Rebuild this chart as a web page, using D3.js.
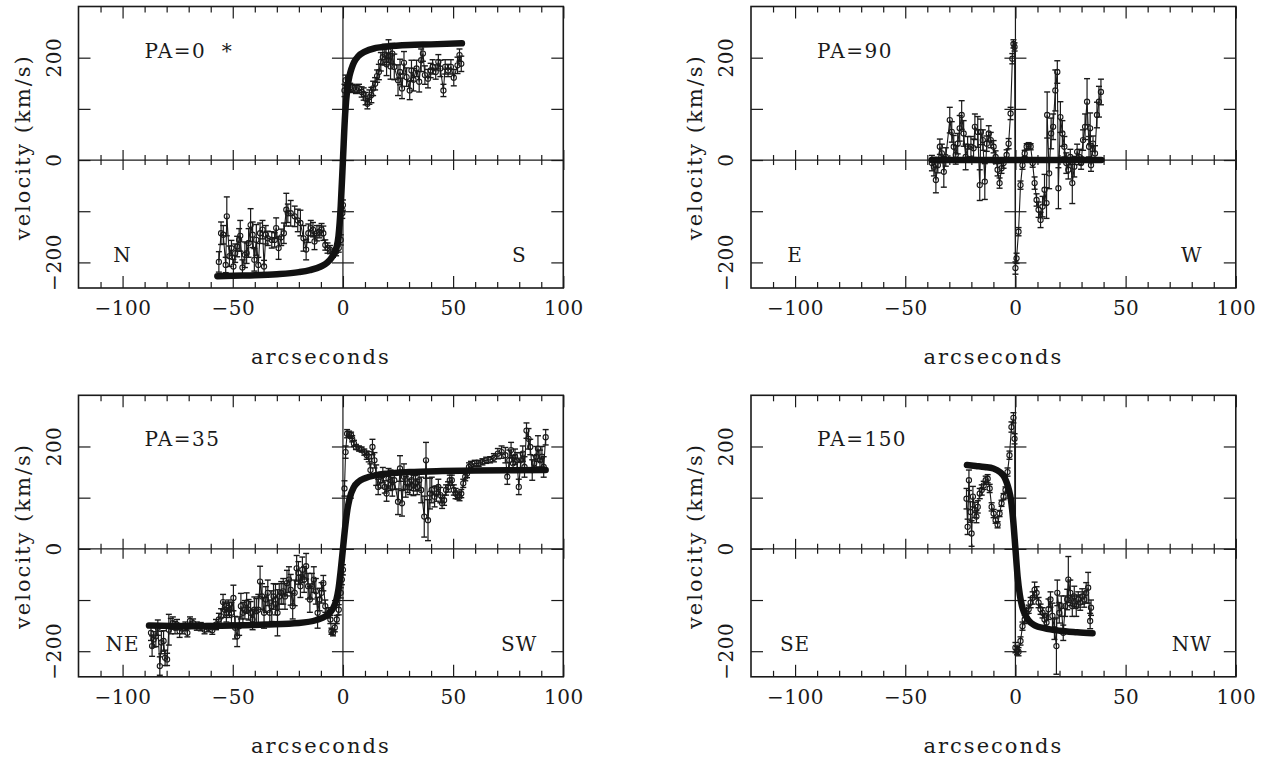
<!DOCTYPE html>
<html><head><meta charset="utf-8">
<script src="https://cdn.jsdelivr.net/npm/d3@7"></script>
<style>
body{margin:0;background:#fff}
text{font-family:"DejaVu Serif",serif;fill:#1a1a1a;white-space:pre}
</style>
</head><body>
<svg id="chart" width="1265" height="758"></svg>
<script>
// ---------- axes / labels ----------
const xDomain = [-120, 100];
const yDomain = [-250, 300];
const xMajorTicks = [-100, -50, 0, 50, 100];
const xTickLabels = ["−100", "−50", "0", "50", "100"];
const xMinorTicks = [-110,-90,-80,-70,-60,-40,-30,-20,-10,10,20,30,40,60,70,80,90];
const yTicks = [-200, -100, 0, 100, 200];
const yLabelTicks = [-200, 0, 200];
const yTickLabels = ["−200", "0", "200"];
const xTitle = "arcseconds";
const yTitle = "velocity (km/s)";

const panelTitles = ["PA=0  *", "PA=90", "PA=35", "PA=150"];
const leftLabels = ["N", "E", "NE", "SE"];
const rightLabels = ["S", "W", "SW", "NW"];

// ---------- model curves [arcsec, km/s] ----------
const modelPA0 = [[-57,-227],[-50,-226],[-40,-225],[-30,-223],[-20,-219],[-15,-215],[-10,-208],[-7,-200],[-5,-190],[-3,-172],[-2,-148],[-1,-90],[0,0],[1,90],[2,140],[3,165],[4,180],[5,191],[7,203],[10,212],[15,219],[20,222],[30,225],[40,226],[54,228]];
const modelPA90 = [[-38,0],[-20,0],[0,0],[20,0],[39,0]];
const modelPA35 = [[-88,-150],[-70,-151],[-50,-150],[-35,-148],[-20,-145],[-12,-139],[-8,-132],[-5,-120],[-3,-100],[-2,-78],[-1,-42],[0,0],[1,42],[2,76],[3,98],[5,121],[7,131],[10,138],[15,144],[20,147],[30,150],[45,152],[60,153],[92,154]];
const modelPA150 = [[-22,164],[-18,162],[-14,160],[-10,157],[-7,150],[-5,140],[-4,130],[-3,116],[-2,95],[-1,55],[0,0],[1,-55],[2,-90],[3,-112],[4,-125],[6,-140],[9,-150],[13,-155],[20,-160],[28,-163],[35,-165]];

// ---------- measured velocities [arcsec, km/s, error] ----------
const dataPA0 = [[-56.3,-199,20],[-55.3,-143,22],[-54.3,-146,18],[-53.2,-205,15],[-52.7,-110,38],[-51.5,-188,20],[-50.6,-172,15],[-49.7,-208,14],[-48.9,-182,18],[-48.0,-169,20],[-47.1,-156,22],[-46.6,-148,30],[-45.6,-210,15],[-44.5,-185,25],[-43.7,-182,20],[-42.8,-162,28],[-41.9,-127,32],[-41.0,-146,25],[-40.2,-195,22],[-39.3,-156,30],[-38.4,-205,15],[-37.6,-143,20],[-36.5,-136,18],[-35.8,-208,12],[-35.0,-146,18],[-34.1,-153,14],[-32.3,-156,16],[-31.0,-156,14],[-30.3,-133,20],[-29.2,-172,22],[-28.0,-151,16],[-26.8,-143,20],[-25.7,-97,32],[-25.0,-104,18],[-23.7,-104,25],[-21.9,-110,20],[-20.5,-118,22],[-19.3,-123,25],[-17.9,-153,25],[-16.7,-175,20],[-15.7,-143,18],[-14.6,-133,15],[-13.6,-136,14],[-12.9,-159,16],[-11.8,-143,15],[-10.8,-140,12],[-9.7,-136,12],[-8.9,-143,14],[-8.0,-166,10],[-7.0,-172,10],[-5.9,-175,8],[-4.5,-182,8],[-3.1,-179,8],[-1.9,-172,8],[-1.0,-156,10],[-0.3,-104,10],[0.0,-88,10],[0.7,136,12],[1.2,156,10],[2.1,149,8],[3.3,142,8],[4.5,140,8],[5.9,138,8],[7.3,140,8],[8.5,133,10],[9.4,129,12],[10.3,120,12],[11.1,110,10],[12.0,123,14],[12.9,127,15],[13.7,140,14],[14.6,149,12],[15.5,164,12],[16.3,172,15],[17.2,192,18],[18.1,201,15],[19.0,206,20],[19.8,187,22],[20.7,213,22],[21.6,183,25],[22.4,208,20],[23.3,182,25],[25.0,156,30],[25.9,172,25],[26.8,140,20],[27.7,190,22],[28.9,162,18],[30.3,136,18],[31.1,175,20],[32.0,157,22],[33.4,179,16],[34.6,153,20],[35.5,195,22],[36.3,208,15],[37.2,166,18],[38.6,159,18],[39.8,175,14],[40.7,182,14],[42.1,172,14],[43.3,192,14],[44.2,179,16],[45.6,136,12],[46.4,182,14],[47.7,175,12],[49.0,182,14],[50.3,161,16],[52.0,185,16],[52.9,205,12],[53.7,188,15]];

const dataPA90 = [[-37.9,-6,15],[-37.0,-13,18],[-36.1,-39,25],[-35.2,-10,15],[-34.3,26,15],[-33.4,13,18],[-32.5,-23,30],[-31.6,6,18],[-29.8,78,25],[-28.9,55,20],[-28.0,26,22],[-27.1,10,18],[-26.2,32,20],[-25.3,62,25],[-24.4,88,28],[-23.5,52,25],[-22.6,6,25],[-21.7,26,20],[-20.2,26,20],[-19.0,23,18],[-18.4,65,25],[-17.1,55,30],[-16.2,-49,30],[-15.7,55,25],[-14.8,39,20],[-13.9,-42,35],[-13.0,32,15],[-12.1,52,15],[-11.2,39,15],[-9.9,26,12],[-9.0,6,12],[-8.1,-19,12],[-7.2,-45,10],[-6.3,-16,10],[-5.4,-6,10],[-4.0,10,10],[-3.1,32,10],[-2.2,91,12],[-1.4,198,10],[-0.9,227,8],[-0.4,221,8],[0.0,-211,12],[0.5,-192,10],[1.4,-140,8],[2.3,-49,8],[3.2,-10,8],[4.2,13,6],[5.1,26,6],[6.0,28,6],[6.9,26,6],[7.8,-6,8],[8.7,-45,12],[9.6,-78,12],[10.5,-97,15],[11.4,-117,15],[12.3,-91,20],[13.2,-58,30],[14.1,-84,30],[14.4,88,45],[15.3,-26,30],[16.2,52,30],[17.1,65,25],[18.1,136,40],[19.0,172,22],[19.5,-55,40],[20.4,84,30],[21.3,52,25],[22.2,26,20],[23.1,-6,20],[24.0,-19,18],[24.9,6,15],[25.8,-45,40],[26.7,-13,20],[28.0,16,15],[28.9,6,15],[29.8,-6,12],[30.7,39,20],[31.6,65,25],[32.5,114,45],[33.4,26,20],[33.9,62,30],[34.3,-10,12],[35.2,32,15],[36.1,13,15],[37.0,88,25],[37.9,114,30],[38.8,133,25]];

const dataPA35 = [[-87.1,-164,15],[-86.6,-190,20],[-85.9,-177,15],[-84.9,-171,20],[-84.0,-154,15],[-83.1,-229,18],[-82.4,-183,22],[-81.4,-180,20],[-80.7,-213,15],[-79.8,-216,12],[-79.0,-158,30],[-78.1,-151,15],[-77.2,-145,12],[-76.2,-154,12],[-75.3,-148,10],[-74.1,-161,12],[-72.7,-156,10],[-71.5,-151,8],[-70.6,-164,8],[-69.4,-141,8],[-68.0,-145,8],[-66.3,-151,8],[-64.5,-152,8],[-62.8,-158,8],[-61.0,-154,8],[-59.3,-159,8],[-57.6,-148,10],[-56.3,-138,12],[-55.3,-132,15],[-54.4,-104,15],[-53.6,-119,15],[-52.9,-125,18],[-52.0,-115,15],[-51.5,-119,15],[-50.6,-125,20],[-49.7,-96,25],[-48.9,-154,22],[-48.0,-171,20],[-47.1,-151,18],[-46.3,-112,25],[-45.4,-125,20],[-44.5,-119,18],[-43.7,-106,20],[-42.8,-119,20],[-41.9,-125,22],[-41.0,-138,20],[-40.2,-119,25],[-39.3,-122,25],[-38.4,-119,30],[-37.6,-64,30],[-36.7,-93,25],[-35.8,-125,30],[-35.0,-99,25],[-34.1,-86,25],[-33.2,-125,25],[-32.3,-112,30],[-31.5,-93,25],[-30.6,-99,30],[-29.7,-125,45],[-28.9,-93,25],[-28.0,-86,22],[-27.1,-83,25],[-26.3,-93,25],[-25.4,-67,25],[-24.5,-60,25],[-23.7,-80,30],[-22.8,-112,25],[-21.9,-86,25],[-21.0,-38,25],[-20.2,-47,22],[-19.3,-73,22],[-18.4,-41,25],[-17.6,-60,25],[-16.7,-34,25],[-15.8,-73,25],[-15.0,-99,25],[-14.1,-73,25],[-13.2,-60,25],[-12.3,-83,25],[-11.5,-125,30],[-10.6,-99,22],[-9.7,-86,20],[-8.9,-67,15],[-8.0,-112,12],[-6.6,-125,10],[-5.7,-138,8],[-5.2,-161,6],[-4.5,-164,6],[-3.7,-154,8],[-2.8,-138,8],[-1.9,-119,10],[-1.0,-86,10],[-0.5,-60,10],[0.0,-41,10],[0.7,118,15],[1.2,189,12],[1.9,225,8],[2.8,224,6],[3.7,222,6],[4.2,215,6],[5.0,206,6],[5.9,199,5],[7.3,196,5],[8.5,194,5],[9.7,189,6],[10.8,183,8],[11.7,180,10],[12.5,154,12],[13.4,199,15],[14.3,173,15],[15.1,144,20],[16.0,121,15],[17.2,134,15],[18.1,144,15],[19.0,121,12],[19.8,108,15],[20.7,137,20],[21.6,134,20],[22.4,121,18],[23.3,134,18],[25.0,92,25],[25.9,157,25],[26.8,89,25],[27.7,141,25],[28.5,121,20],[29.4,128,18],[30.3,121,15],[31.1,134,20],[32.0,124,20],[32.9,128,15],[33.7,121,15],[34.6,134,20],[35.5,115,25],[36.9,63,40],[37.7,173,35],[38.6,56,40],[39.5,108,30],[40.3,115,25],[41.6,102,20],[42.4,108,15],[43.3,121,15],[44.2,105,15],[45.0,89,10],[45.9,95,10],[46.8,115,10],[47.7,121,10],[48.5,134,10],[49.4,134,10],[50.3,115,10],[51.1,108,10],[52.0,105,8],[52.9,102,8],[53.7,108,8],[54.6,128,8],[55.5,141,8],[56.3,147,8],[57.2,160,8],[58.1,163,8],[59.8,167,6],[61.6,167,6],[63.3,170,6],[65.0,173,6],[66.8,174,6],[68.5,178,8],[70.3,186,10],[72.0,189,12],[73.7,183,15],[74.6,141,15],[75.5,173,20],[76.3,193,15],[77.2,167,15],[78.1,180,15],[79.0,173,15],[79.8,121,15],[80.7,173,15],[81.6,186,15],[82.4,160,20],[83.3,231,15],[84.2,215,20],[85.0,199,15],[85.9,154,20],[86.8,167,15],[87.7,180,20],[88.5,196,25],[89.4,173,20],[90.3,180,20],[91.1,160,20],[92.0,218,15]];

const dataPA150 = [[-22.2,98,20],[-21.7,43,15],[-21.1,134,20],[-20.4,72,20],[-19.9,30,25],[-19.3,102,20],[-18.4,76,15],[-17.7,63,12],[-17.1,82,12],[-16.2,108,10],[-15.3,115,10],[-14.4,124,8],[-13.5,134,8],[-12.6,137,8],[-11.7,118,8],[-10.8,82,8],[-9.9,69,8],[-9.0,56,6],[-8.1,47,6],[-7.2,69,6],[-6.3,89,6],[-5.4,102,6],[-4.5,115,6],[-3.6,150,8],[-2.7,183,8],[-1.8,238,10],[-0.9,256,10],[-0.4,215,10],[0.0,-193,10],[0.7,-199,8],[1.4,-201,8],[2.3,-180,8],[3.2,-151,8],[4.2,-138,8],[5.1,-125,8],[6.0,-118,8],[6.9,-105,10],[7.8,-96,12],[8.7,-80,15],[9.6,-86,12],[10.5,-105,10],[11.4,-118,10],[12.3,-125,10],[13.2,-138,12],[14.1,-144,15],[15.0,-118,20],[15.9,-99,15],[16.8,-131,25],[17.7,-157,20],[18.6,-190,55],[19.0,-86,25],[19.9,-125,20],[20.8,-112,20],[21.7,-164,15],[22.6,-112,20],[23.5,-99,20],[24.0,-60,45],[24.9,-86,25],[25.8,-112,20],[26.7,-93,20],[27.6,-112,20],[28.5,-99,15],[29.4,-105,15],[30.3,-93,15],[31.2,-99,15],[32.1,-86,20],[33.0,-76,30],[33.9,-141,15],[34.3,-115,15]];

// ---------- drawing ----------
const svg = d3.select("#chart");
const panelW = 484.8, panelH = 281.5;
const panelOrigins = [[78.5, 6.5], [751, 6.5], [78.5, 395.3], [751, 395.3]];
const models = [modelPA0, modelPA90, modelPA35, modelPA150];
const datasets = [dataPA0, dataPA90, dataPA35, dataPA150];
const ink = "#1a1a1a";

panelOrigins.forEach(([ox, oy], i) => {
  const x = d3.scaleLinear().domain(xDomain).range([0, panelW]);
  const y = d3.scaleLinear().domain(yDomain).range([panelH, 0]);
  const g = svg.append("g").attr("transform", `translate(${ox},${oy})`);

  const clean = sel => { sel.select(".domain").remove(); sel.selectAll("line").attr("stroke", ink).attr("stroke-width", 1.2); };

  // ticks, inside frame: bottom & top
  g.append("g").attr("transform", `translate(0,${panelH})`)
    .call(d3.axisBottom(x).tickValues(xMajorTicks).tickSize(-12).tickFormat("")).call(clean);
  g.append("g").attr("transform", `translate(0,${panelH})`)
    .call(d3.axisBottom(x).tickValues(xMinorTicks).tickSize(-6).tickFormat("")).call(clean);
  g.append("g")
    .call(d3.axisTop(x).tickValues(xMajorTicks).tickSize(-12).tickFormat("")).call(clean);
  g.append("g")
    .call(d3.axisTop(x).tickValues(xMinorTicks).tickSize(-6).tickFormat("")).call(clean);
  // ticks on zero lines (both sides)
  [1, -1].forEach(s => {
    g.append("g").attr("transform", `translate(0,${y(0)})`)
      .call(d3.axisBottom(x).tickValues(xMajorTicks).tickSize(10 * s).tickFormat("")).call(clean);
    g.append("g").attr("transform", `translate(0,${y(0)})`)
      .call(d3.axisBottom(x).tickValues(xMinorTicks).tickSize(5 * s).tickFormat("")).call(clean);
    g.append("g").attr("transform", `translate(${x(0)},0)`)
      .call(d3.axisLeft(y).tickValues(yTicks).tickSize(11 * s).tickFormat("")).call(clean);
  });
  // left & right y ticks, inside
  g.append("g").call(d3.axisLeft(y).tickValues(yTicks).tickSize(-12).tickFormat("")).call(clean);
  g.append("g").attr("transform", `translate(${panelW},0)`)
    .call(d3.axisRight(y).tickValues(yTicks).tickSize(-12).tickFormat("")).call(clean);

  // zero lines
  g.append("line").attr("x1", 0).attr("x2", panelW).attr("y1", y(0)).attr("y2", y(0))
    .attr("stroke", ink).attr("stroke-width", 1.2);
  g.append("line").attr("x1", x(0)).attr("x2", x(0)).attr("y1", 0).attr("y2", panelH)
    .attr("stroke", ink).attr("stroke-width", 1.2);

  // frame
  g.append("rect").attr("width", panelW).attr("height", panelH)
    .attr("fill", "none").attr("stroke", ink).attr("stroke-width", 1.6);

  // tick labels
  const xl = g.append("g").attr("transform", `translate(0,${panelH})`)
    .call(d3.axisBottom(x).tickValues(xMajorTicks).tickSize(0).tickPadding(13)
      .tickFormat((d, k) => xTickLabels[k]));
  xl.select(".domain").remove();
  xl.selectAll("text").attr("font-size", 20).attr("letter-spacing", 0.5)
    .attr("font-family", "DejaVu Serif").attr("fill", ink);

  yLabelTicks.forEach((v, k) => {
    g.append("text").attr("transform", `translate(-18,${y(v)}) rotate(-90)`)
      .attr("text-anchor", "middle").attr("font-size", 20).attr("letter-spacing", 0.5).text(yTickLabels[k]);
  });

  // axis titles
  g.append("text").attr("x", panelW / 2).attr("y", panelH + 76).attr("text-anchor", "middle")
    .attr("font-size", 21).attr("letter-spacing", 2).text(xTitle);
  g.append("text").attr("transform", `translate(-49,${panelH / 2}) rotate(-90)`)
    .attr("text-anchor", "middle").attr("font-size", 21).attr("letter-spacing", 2).text(yTitle);

  // annotations
  g.append("text").attr("x", x(-90)).attr("y", y(200)).attr("font-size", 20).attr("letter-spacing", 1.5).text(panelTitles[i]);
  g.append("text").attr("x", x(-100)).attr("y", y(-200)).attr("text-anchor", "middle").attr("font-size", 20).attr("letter-spacing", 1).text(leftLabels[i]);
  g.append("text").attr("x", x(80)).attr("y", y(-200)).attr("text-anchor", "middle").attr("font-size", 20).attr("letter-spacing", 1).text(rightLabels[i]);

  // data
  const data = datasets[i];
  const dg = g.append("g");
  dg.append("path").datum(data)
    .attr("d", d3.line().x(d => x(d[0])).y(d => y(d[1])))
    .attr("fill", "none").attr("stroke", ink).attr("stroke-width", 1.1);
  const eb = dg.selectAll("g.eb").data(data).join("g");
  eb.append("line").attr("x1", d => x(d[0])).attr("x2", d => x(d[0]))
    .attr("y1", d => y(d[1] - d[2])).attr("y2", d => y(d[1] + d[2]))
    .attr("stroke", ink).attr("stroke-width", 1.2);
  [-1, 1].forEach(s => {
    eb.append("line").attr("x1", d => x(d[0]) - 3).attr("x2", d => x(d[0]) + 3)
      .attr("y1", d => y(d[1] + s * d[2])).attr("y2", d => y(d[1] + s * d[2]))
      .attr("stroke", ink).attr("stroke-width", 1.4);
  });
  dg.selectAll("circle").data(data).join("circle")
    .attr("cx", d => x(d[0])).attr("cy", d => y(d[1])).attr("r", 2.6)
    .attr("fill", "none").attr("stroke", ink).attr("stroke-width", 1.1);

  // model
  g.append("path").datum(models[i])
    .attr("d", d3.line().curve(d3.curveMonotoneX).x(d => x(d[0])).y(d => y(d[1])))
    .attr("fill", "none").attr("stroke", "#111").attr("stroke-width", 6.5)
    .attr("stroke-linecap", "round").attr("stroke-linejoin", "round");
});
</script>
</body></html>
